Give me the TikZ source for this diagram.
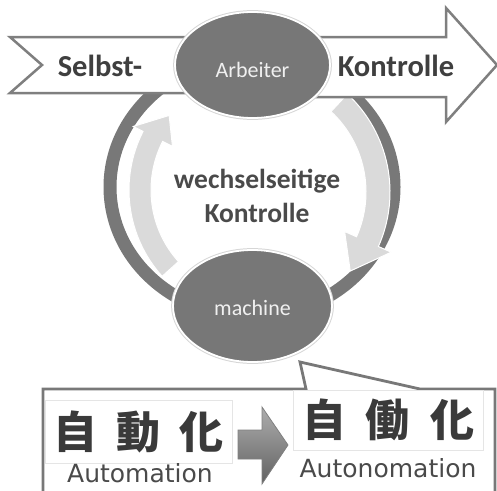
\documentclass[tikz,border=0pt]{standalone}
\usepackage{fontspec}
\usetikzlibrary{shapes.geometric}
\newfontfamily\calibri{Carlito}
\newfontfamily\cjk{Noto Sans CJK JP}
\newfontfamily\labelfont{DejaVu Sans}
\definecolor{ringgray}{HTML}{787878}
\definecolor{ellgray}{HTML}{777777}
\definecolor{linegray}{HTML}{7F7F7F}
\definecolor{lightarrow}{HTML}{DADADA}
\definecolor{textdark}{HTML}{3F3F3F}
\definecolor{textmid}{HTML}{4A4A4A}
\definecolor{kanji}{HTML}{3A3A3A}

\begin{document}
\begin{tikzpicture}[x=1pt,y=-1pt,
  band/.style={draw=linegray, line width=2.5pt, fill=white, line join=miter},
  roundarrow/.style={fill=lightarrow, draw=white, line width=1pt},
  actor/.style={ellipse, fill=ellgray, draw=white, line width=1.8pt,
    inner sep=0pt, text=white!94!black, text depth=0pt,
    font=\calibri\fontsize{22}{26}\selectfont,
    preaction={draw=black!16, line width=3.8pt}},
  bandtext/.style={anchor=base, text=textdark,
    font=\calibri\bfseries\fontsize{30.5}{36}\selectfont},
  callout/.style={draw=ringgray, line width=2.8pt, fill=white, line join=miter},
  imgbox/.style={draw=black!10, line width=0.8pt, fill=white, inner sep=0pt,
    text=kanji, font=\cjk\bfseries\fontsize{44}{48}\selectfont},
  romaji/.style={anchor=base, text=textmid,
    font=\labelfont\fontsize{25}{30}\selectfont},
  shiftarrow/.style={top color=black!32, bottom color=black!62,
    draw=black!50, line width=0.8pt, line join=miter}
]
\useasboundingbox (0,0) rectangle (497,490);
\clip (0,0) rectangle (497,490);

% outer ring
\draw[ringgray, line width=13pt] (252,187) ellipse[x radius=142, y radius=129.5];

% light circular arrows inside the ring
\coordinate (lc) at (258,190);
\coordinate (rc) at (256,192);
\path[roundarrow]
  ([shift={(lc)}]138:107) arc[start angle=138, end angle=207, radius=107]
  -- ([shift={(lc)}]207:96) -- ([shift={(lc)}]220:116) -- ([shift={(lc)}]207:140)
  -- ([shift={(lc)}]207:129) arc[start angle=207, end angle=138, radius=129] -- cycle;
\path[roundarrow]
  ([shift={(rc)}]-47:110) arc[start angle=-47, end angle=24, radius=110]
  -- ([shift={(rc)}]24:97) -- ([shift={(rc)}]40:123) -- ([shift={(rc)}]24:148)
  -- ([shift={(rc)}]24:134) arc[start angle=24, end angle=-47, radius=134] -- cycle;

% Selbst- / Kontrolle bands
\path[band] (215,37) -- (10,37) -- (42,65) -- (10,93) -- (215,93) -- cycle;
\path[band] (290,37) -- (446,37) -- (446,8) -- (497,65) -- (446,122)
  -- (446,97) -- (290,97) -- cycle;

% actors
\node[actor, minimum width=155pt, minimum height=106pt, text height=24pt]
  (arbeiter) at (252.5,65) {Arbeiter};
\node[actor, minimum width=159pt, minimum height=112pt, text height=18pt]
  (machine) at (252.5,306) {machine};

\node[bandtext] (selbst) at (100,76) {Selbst-};
\node[bandtext] (kontrolle) at (396,76) {Kontrolle};

\node[align=center, text=textmid,
  font=\calibri\bfseries\fontsize{27.5}{34}\selectfont]
  (mutual) at (257,196) {wechselseitige\\Kontrolle};

% callout from the machine
\path[callout] (43,520) -- (43,389) -- (306,389) -- (300,362) -- (420,389)
  -- (495,389) -- (495,520);

\node[imgbox, minimum width=187pt, minimum height=63pt]
  (jidou) at (138.5,431.5) {自\hspace{19pt}動\hspace{19pt}化};
\node[imgbox, minimum width=190pt, minimum height=60pt]
  (jidoka) at (388,420) {自\hspace{20pt}働\hspace{20pt}化};

% block arrow from automation to autonomation
\path[shiftarrow] (238,430) -- (262,430) -- (262,407) -- (288,445)
  -- (262,484) -- (262,459) -- (238,459) -- cycle;

\node[romaji] (automation) at (140,482) {Automation};
\node[romaji] (autonomation) at (388,477) {Autonomation};
\end{tikzpicture}
\end{document}
